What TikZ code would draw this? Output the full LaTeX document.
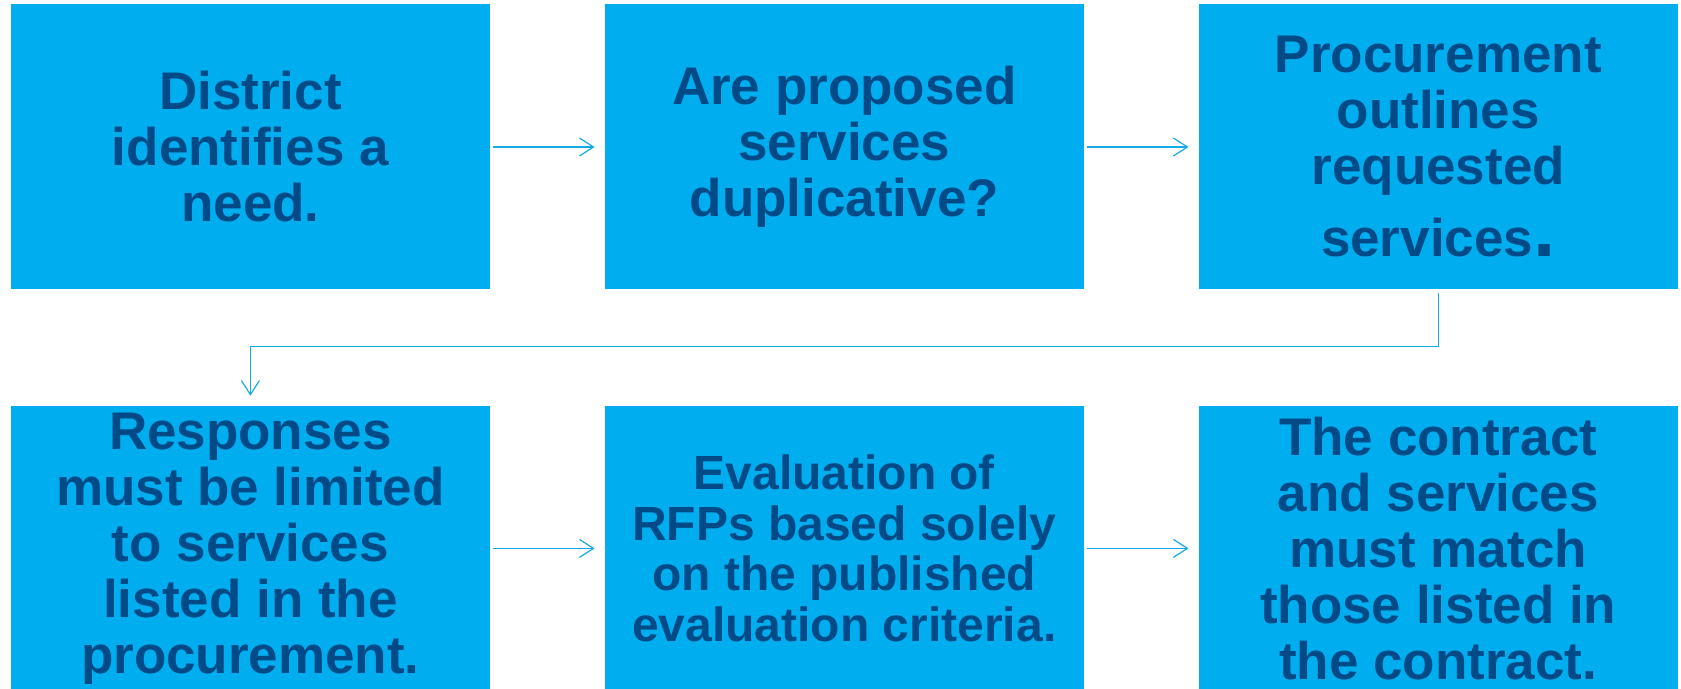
\documentclass[tikz,border=0pt]{standalone}
\usepackage{fontspec}
\setmainfont{Liberation Sans}
\usetikzlibrary{positioning,arrows.meta,calc}
\definecolor{pcBox}{RGB}{0,174,239}
\definecolor{pcText}{RGB}{0,74,135}
\definecolor{pcLine}{RGB}{20,170,230}

\begin{document}
\begin{tikzpicture}[x=1pt,y=1pt,
  stage/.style={rectangle, fill=pcBox, text=pcText, minimum width=479pt,
    minimum height=285pt, inner sep=0pt, align=center,
    font=\fontsize{53}{56}\selectfont\bfseries},
  flow/.style={pcLine, line width=1.2pt, -{Straight Barb[length=14pt,width=18pt]},
    shorten <=3pt, shorten >=10pt}]
  \useasboundingbox (0,0) rectangle (1681,688);

  % Row 1
  \node[stage] (need) at (250.4,541) {District\\identifies a\\need.};
  \node[stage, right=114.5pt of need] (dup) {Are proposed\\services\\duplicative?};
  \node[stage, right=114.5pt of dup] (outline)
    {Procurement\\outlines\\requested\\[16pt]services{\fontsize{80}{80}\selectfont.}};

  % Row 2
  \node[stage, below=116pt of need] (resp)
    {Responses\\must be limited\\to services\\listed in the\\procurement.};
  \node[stage, right=114.5pt of resp, font=\fontsize{48}{50.5}\selectfont\bfseries] (eval)
    {Evaluation of\\RFPs based solely\\on the published\\evaluation criteria.};
  \node[stage, right=114.5pt of eval] (match)
    {The contract\\and services\\must match\\those listed in\\the contract.};

  % Connectors
  \draw[flow] (need) -- (dup);
  \draw[flow] (dup) -- (outline);
  \coordinate (turn) at ($(outline.south)+(0,-56.5)$);
  \draw[flow] (outline.south) |- (turn) -| (resp.north);
  \draw[flow] (resp) -- (eval);
  \draw[flow] (eval) -- (match);
\end{tikzpicture}
\end{document}
